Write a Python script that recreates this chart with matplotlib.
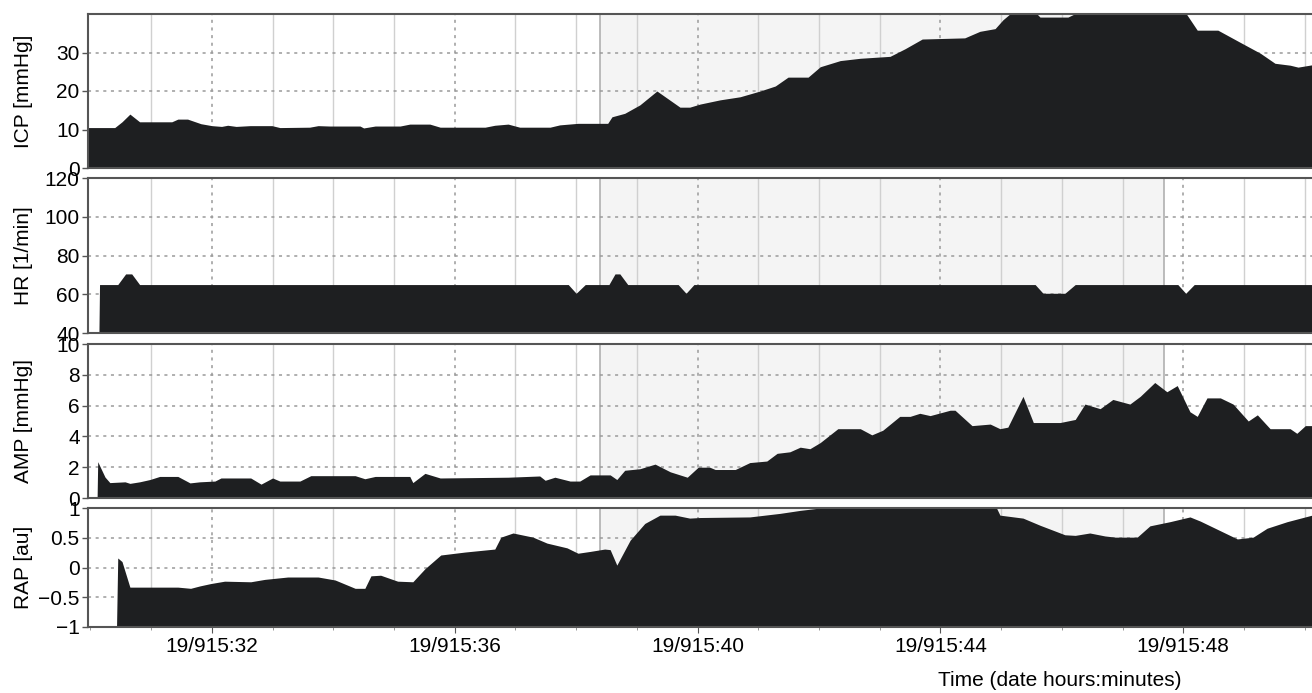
import numpy as np
import matplotlib.pyplot as plt
from matplotlib.ticker import FixedLocator, MultipleLocator

plt.rcParams['font.family'] = ['Liberation Sans', 'DejaVu Sans']

# time axis: minutes after 19/9 15:30
tick_pos = [2, 6, 10, 14, 18]
tick_labels = ['19/915:32', '19/915:36', '19/915:40', '19/915:44', '19/915:48']
episode = (8.39, 17.68)  # shaded interval

icp_t = [-0.04, 0.40, 0.52, 0.65, 0.81, 0.98, 1.34, 1.44, 1.60, 1.82, 2.00, 2.16, 2.26, 2.40,
         2.63, 2.99, 3.12, 3.61, 3.75, 3.94, 4.44, 4.50, 4.69, 5.10, 5.26, 5.59, 5.76, 6.50,
         6.66, 6.88, 7.07, 7.57, 7.73, 8.03, 8.52, 8.59, 8.80, 9.05, 9.33, 9.71, 9.87, 10.04,
         10.37, 10.70, 11.03, 11.28, 11.49, 11.82, 12.02, 12.35, 12.68, 13.17, 13.42, 13.70,
         14.40, 14.65, 14.90, 15.03, 15.18, 15.56, 15.64, 16.10, 16.27, 18.03, 18.23, 18.57,
         18.93, 19.27, 19.51, 19.76, 19.89, 20.12]
icp_v = [10.5, 10.5, 12, 14, 12, 12, 12, 12.7, 12.7, 11.5, 11, 10.8, 11.1, 10.8,
         11, 11, 10.5, 10.6, 11, 10.9, 10.9, 10.4, 10.9, 10.9, 11.4, 11.4, 10.6, 10.6,
         11.1, 11.4, 10.6, 10.6, 11.2, 11.6, 11.6, 13.3, 14.2, 16.4, 20, 15.8, 15.8, 16.6,
         17.7, 18.5, 20, 21.3, 23.6, 23.6, 26.3, 27.9, 28.5, 29, 31, 33.5,
         33.8, 35.5, 36.2, 38.5, 40.5, 40.5, 39.2, 39.2, 40.5, 40.5, 35.8, 35.8,
         32.7, 29.8, 27.2, 26.7, 26.2, 26.8]

hr_t = [-0.04, 0.14, 0.15, 0.45, 0.58, 0.68, 0.81, 7.87, 8.0, 8.15, 8.54, 8.64, 8.72, 8.85,
        9.68, 9.81, 9.94, 15.56, 15.69, 16.05, 16.22, 17.91, 18.04, 18.18, 20.12]
hr_v = [40, 40, 65, 65, 70.5, 70.5, 65, 65, 60.5, 65, 65, 70.5, 70.5, 65,
        65, 60.5, 65, 65, 60.5, 60.5, 65, 65, 60.5, 65, 65]

amp_t = [-0.04, 0.11, 0.12, 0.24, 0.32, 0.57, 0.65, 0.81, 0.98, 1.14, 1.44, 1.64, 1.80, 2.05,
         2.15, 2.64, 2.81, 3.00, 3.12, 3.45, 3.63, 4.36, 4.52, 4.69, 5.26, 5.31, 5.51, 5.76,
         6.88, 7.40, 7.49, 7.65, 7.90, 8.06, 8.23, 8.56, 8.67, 8.80, 9.05, 9.30, 9.55, 9.83,
         10.01, 10.20, 10.29, 10.62, 10.86, 11.14, 11.31, 11.52, 11.69, 11.85, 12.02, 12.31,
         12.68, 12.87, 13.05, 13.33, 13.50, 13.66, 13.83, 14.16, 14.24, 14.52, 14.82, 14.98,
         15.11, 15.36, 15.53, 15.97, 16.22, 16.38, 16.63, 16.84, 17.12, 17.29, 17.53, 17.73,
         17.90, 18.11, 18.23, 18.39, 18.61, 18.82, 19.07, 19.22, 19.43, 19.76, 19.87, 20.01,
         20.12]
amp_v = [0, 0, 2.36, 1.36, 1.0, 1.05, 0.95, 1.05, 1.2, 1.4, 1.4, 0.98, 1.05, 1.1,
         1.3, 1.3, 0.9, 1.3, 1.1, 1.1, 1.45, 1.45, 1.25, 1.4, 1.4, 1.0, 1.6, 1.3,
         1.35, 1.43, 1.15, 1.35, 1.1, 1.1, 1.5, 1.5, 1.2, 1.8, 1.9, 2.2, 1.7, 1.35,
         2.0, 2.0, 1.85, 1.85, 2.3, 2.4, 2.9, 3.0, 3.3, 3.2, 3.6, 4.5,
         4.5, 4.1, 4.4, 5.3, 5.3, 5.5, 5.35, 5.7, 5.7, 4.7, 4.8, 4.5,
         4.6, 6.6, 4.9, 4.9, 5.1, 6.1, 5.8, 6.4, 6.1, 6.6, 7.5, 6.9,
         7.3, 5.6, 5.3, 6.5, 6.5, 6.1, 5.0, 5.4, 4.5, 4.5, 4.2, 4.7,
         4.7]

rap_t = [-0.04, 0.43, 0.45, 0.52, 0.65, 1.44, 1.65, 1.80, 1.98, 2.21, 2.64, 2.87, 3.25, 3.75,
         4.03, 4.36, 4.52, 4.62, 4.78, 5.06, 5.31, 5.51, 5.77, 6.17, 6.66, 6.76, 6.96, 7.29,
         7.52, 7.85, 8.03, 8.23, 8.47, 8.56, 8.67, 8.89, 9.13, 9.38, 9.63, 9.87, 10.04, 10.86,
         11.36, 11.69, 12.02, 12.18, 14.90, 14.98, 15.36, 15.64, 16.05, 16.22, 16.46, 16.71,
         16.88, 17.24, 17.45, 17.78, 18.11, 18.28, 18.89, 19.15, 19.38, 19.71, 20.12]
rap_v = [-1, -1, 0.16, 0.1, -0.33, -0.33, -0.35, -0.31, -0.27, -0.23, -0.24, -0.2, -0.16, -0.16,
         -0.21, -0.35, -0.35, -0.14, -0.13, -0.23, -0.24, -0.02, 0.21, 0.26, 0.31, 0.51, 0.58, 0.51,
         0.41, 0.33, 0.24, 0.27, 0.31, 0.3, 0.04, 0.46, 0.74, 0.88, 0.88, 0.83, 0.84, 0.85,
         0.91, 0.96, 1.0, 1.05, 1.05, 0.88, 0.83, 0.71, 0.55, 0.54, 0.58, 0.53,
         0.51, 0.51, 0.7, 0.77, 0.85, 0.78, 0.48, 0.51, 0.66, 0.77, 0.88]

panels = [
    ('ICP [mmHg]', icp_t, icp_v, (0, 40), [0, 10, 20, 30], ['0', '10', '20', '30']),
    ('HR [1/min]', hr_t, hr_v, (40, 120), [40, 60, 80, 100, 120], ['40', '60', '80', '100', '120']),
    ('AMP [mmHg]', amp_t, amp_v, (0, 10), [0, 2, 4, 6, 8, 10], ['0', '2', '4', '6', '8', '10']),
    ('RAP [au]', rap_t, rap_v, (-1, 1), [-1, -0.5, 0, 0.5, 1], ['\u22121', '\u22120.5', '0', '0.5', '1']),
]

# axes boxes in pixels (top, bottom) of a 1312x693 figure
W, H = 1312, 693
boxes = [(14, 168), (178, 333), (344, 498), (508, 627)]
left = 88
fs = 15

fig = plt.figure(figsize=(W / 100, H / 100), dpi=100)
fill_col = '#1e1f21'

for i, ((label, t, v, ylim, yt, ytl), (top, bot)) in enumerate(zip(panels, boxes)):
    ax = fig.add_axes([left / W, 1 - bot / H, (W - left) / W, (bot - top) / H])
    ax.set_xlim(-0.04, 20.12)
    ax.set_ylim(*ylim)

    ax.axvspan(*episode, color='#f4f4f4', zorder=0, lw=0)
    for e in episode:
        ax.axvline(e, color='#b0b0b0', lw=1.2, zorder=1)

    # minute grid (solid) and 4-minute grid (dotted)
    for m in range(1, 21):
        if m in tick_pos:
            ax.axvline(m, color='#9a9a9a', lw=1.1, ls=(0, (2, 3)), zorder=1)
        else:
            ax.axvline(m, color='#d0d0d0', lw=1.0, zorder=1)
    for y in yt[1:]:
        if y < ylim[1]:
            ax.axhline(y, color='#9a9a9a', lw=1.1, ls=(0, (2, 3)), zorder=1)

    ax.fill_between(t, ylim[0], v, color=fill_col, lw=0, zorder=2)

    ax.set_yticks(yt)
    ax.set_yticklabels(ytl, fontsize=fs)
    ax.set_ylabel(label, fontsize=fs)
    ax.yaxis.set_label_coords(-0.045, 0.5)
    ax.tick_params(axis='y', length=4, width=1, color='#555555', pad=2)

    ax.xaxis.set_major_locator(FixedLocator(tick_pos))
    ax.xaxis.set_minor_locator(MultipleLocator(1))
    if i == len(panels) - 1:
        ax.set_xticklabels(tick_labels, fontsize=fs)
        ax.tick_params(axis='x', which='major', length=4, color='#555555', pad=3)
        ax.tick_params(axis='x', which='minor', length=2, color='#888888')
    else:
        ax.tick_params(axis='x', which='both', length=0, labelbottom=False)

    for s in ['left', 'top', 'bottom']:
        ax.spines[s].set_color('#555555')
        ax.spines[s].set_linewidth(1.5)
    ax.spines['right'].set_visible(False)

fig.text(1060 / W, 1 - 681 / H, 'Time (date hours:minutes)', fontsize=fs,
         ha='center', va='center')

fig.savefig('out.png', dpi=100)
